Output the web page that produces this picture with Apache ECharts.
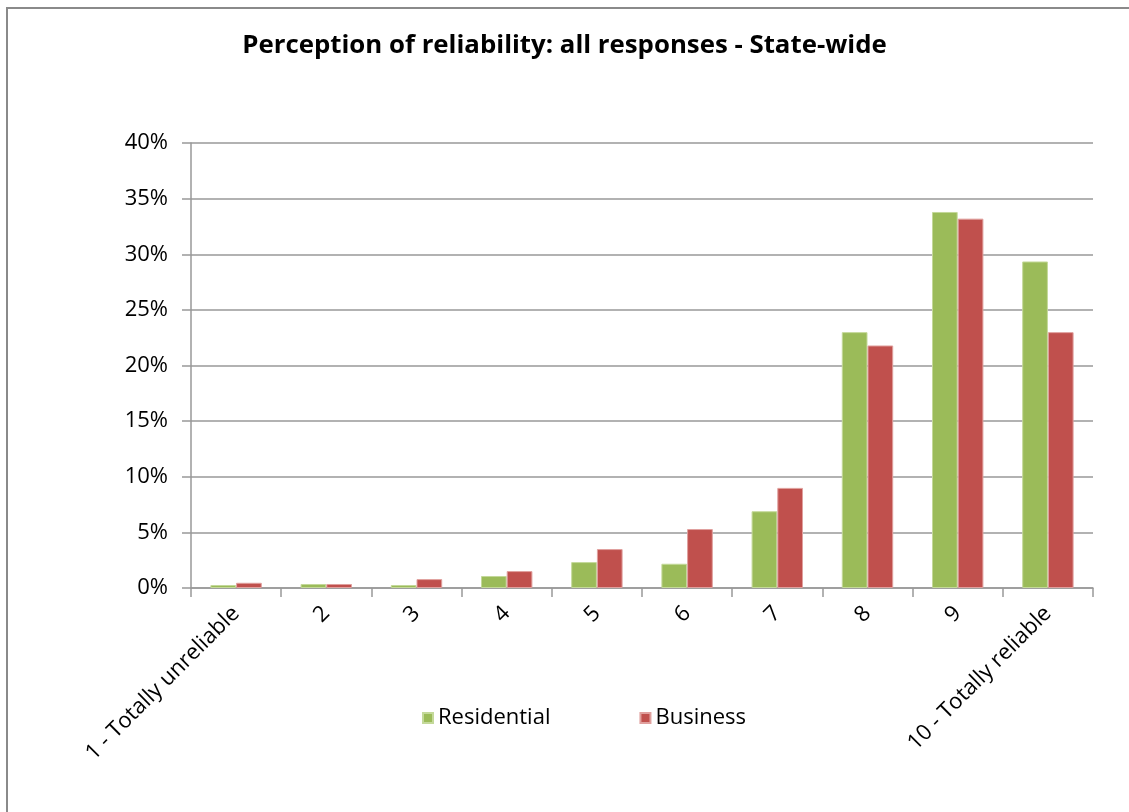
<!DOCTYPE html>
<html>
<head>
<meta charset="utf-8">
<script src="https://cdn.jsdelivr.net/npm/echarts@6/dist/echarts.min.js"></script>
<style>
  html, body { margin: 0; padding: 0; background: #fff; }
  #frame { position: absolute; left: 6px; top: 7px; width: 1140px; height: 820px; border: 2px solid #8a8a8a; box-sizing: border-box; }
  #chart { position: absolute; left: 0; top: 0; width: 1129px; height: 812px; }
</style>
</head>
<body>
<div id="frame"></div>
<div id="chart"></div>
<script>
// Rating scale categories
const categories = ['1 - Totally unreliable', '2', '3', '4', '5', '6', '7', '8', '9', '10 - Totally reliable'];
// Share of responses per rating (%)
const residential = [0.27, 0.36, 0.27, 1.08, 2.33, 2.18, 6.9, 23.0, 33.8, 29.35];
const business = [0.47, 0.36, 0.8, 1.52, 3.5, 5.3, 9.0, 21.8, 33.2, 23.0];
const yTicks = { min: 0, max: 40, interval: 5 };

const font = "'Open Sans', sans-serif";
const chart = echarts.init(document.getElementById('chart'));
chart.setOption({
  animation: false,
  title: {
    text: 'Perception of reliability: all responses - State-wide',
    left: 'center',
    top: 28,
    textStyle: { fontFamily: font, fontSize: 25.8, fontWeight: 'bold', color: '#000' }
  },
  legend: {
    left: 417,
    top: 702,
    itemWidth: 10,
    itemHeight: 10,
    itemGap: 89,
    icon: 'rect',
    textStyle: { fontFamily: font, fontSize: 22, color: '#000' },
    data: ['Residential', 'Business']
  },
  grid: { left: 191, right: 36, top: 143, bottom: 224, containLabel: false },
  xAxis: {
    type: 'category',
    data: categories,
    axisLine: { lineStyle: { color: '#999', width: 1.5 } },
    axisTick: { show: true, length: 9, lineStyle: { color: '#999', width: 1.5 } },
    axisLabel: {
      rotate: 45,
      interval: 0,
      margin: 22,
      fontFamily: font,
      fontSize: 22,
      color: '#000'
    }
  },
  yAxis: {
    type: 'value',
    min: yTicks.min,
    max: yTicks.max,
    interval: yTicks.interval,
    axisLine: { show: true, lineStyle: { color: '#999', width: 1.5 } },
    axisTick: { show: true, length: 9, lineStyle: { color: '#999', width: 1.5 } },
    splitLine: { show: true, lineStyle: { color: '#999', width: 1.5 } },
    axisLabel: {
      formatter: v => v + '%',
      margin: 23,
      fontFamily: font,
      fontSize: 22,
      color: '#000'
    }
  },
  series: [
    {
      name: 'Residential',
      type: 'bar',
      data: residential,
      barGap: '0%',
      barCategoryGap: '43%',
      itemStyle: { color: '#9BBB59', borderColor: '#c4d99a', borderWidth: 1 }
    },
    {
      name: 'Business',
      type: 'bar',
      data: business,
      itemStyle: { color: '#C0504D', borderColor: '#e0a09e', borderWidth: 1 }
    }
  ]
});
</script>
</body>
</html>
